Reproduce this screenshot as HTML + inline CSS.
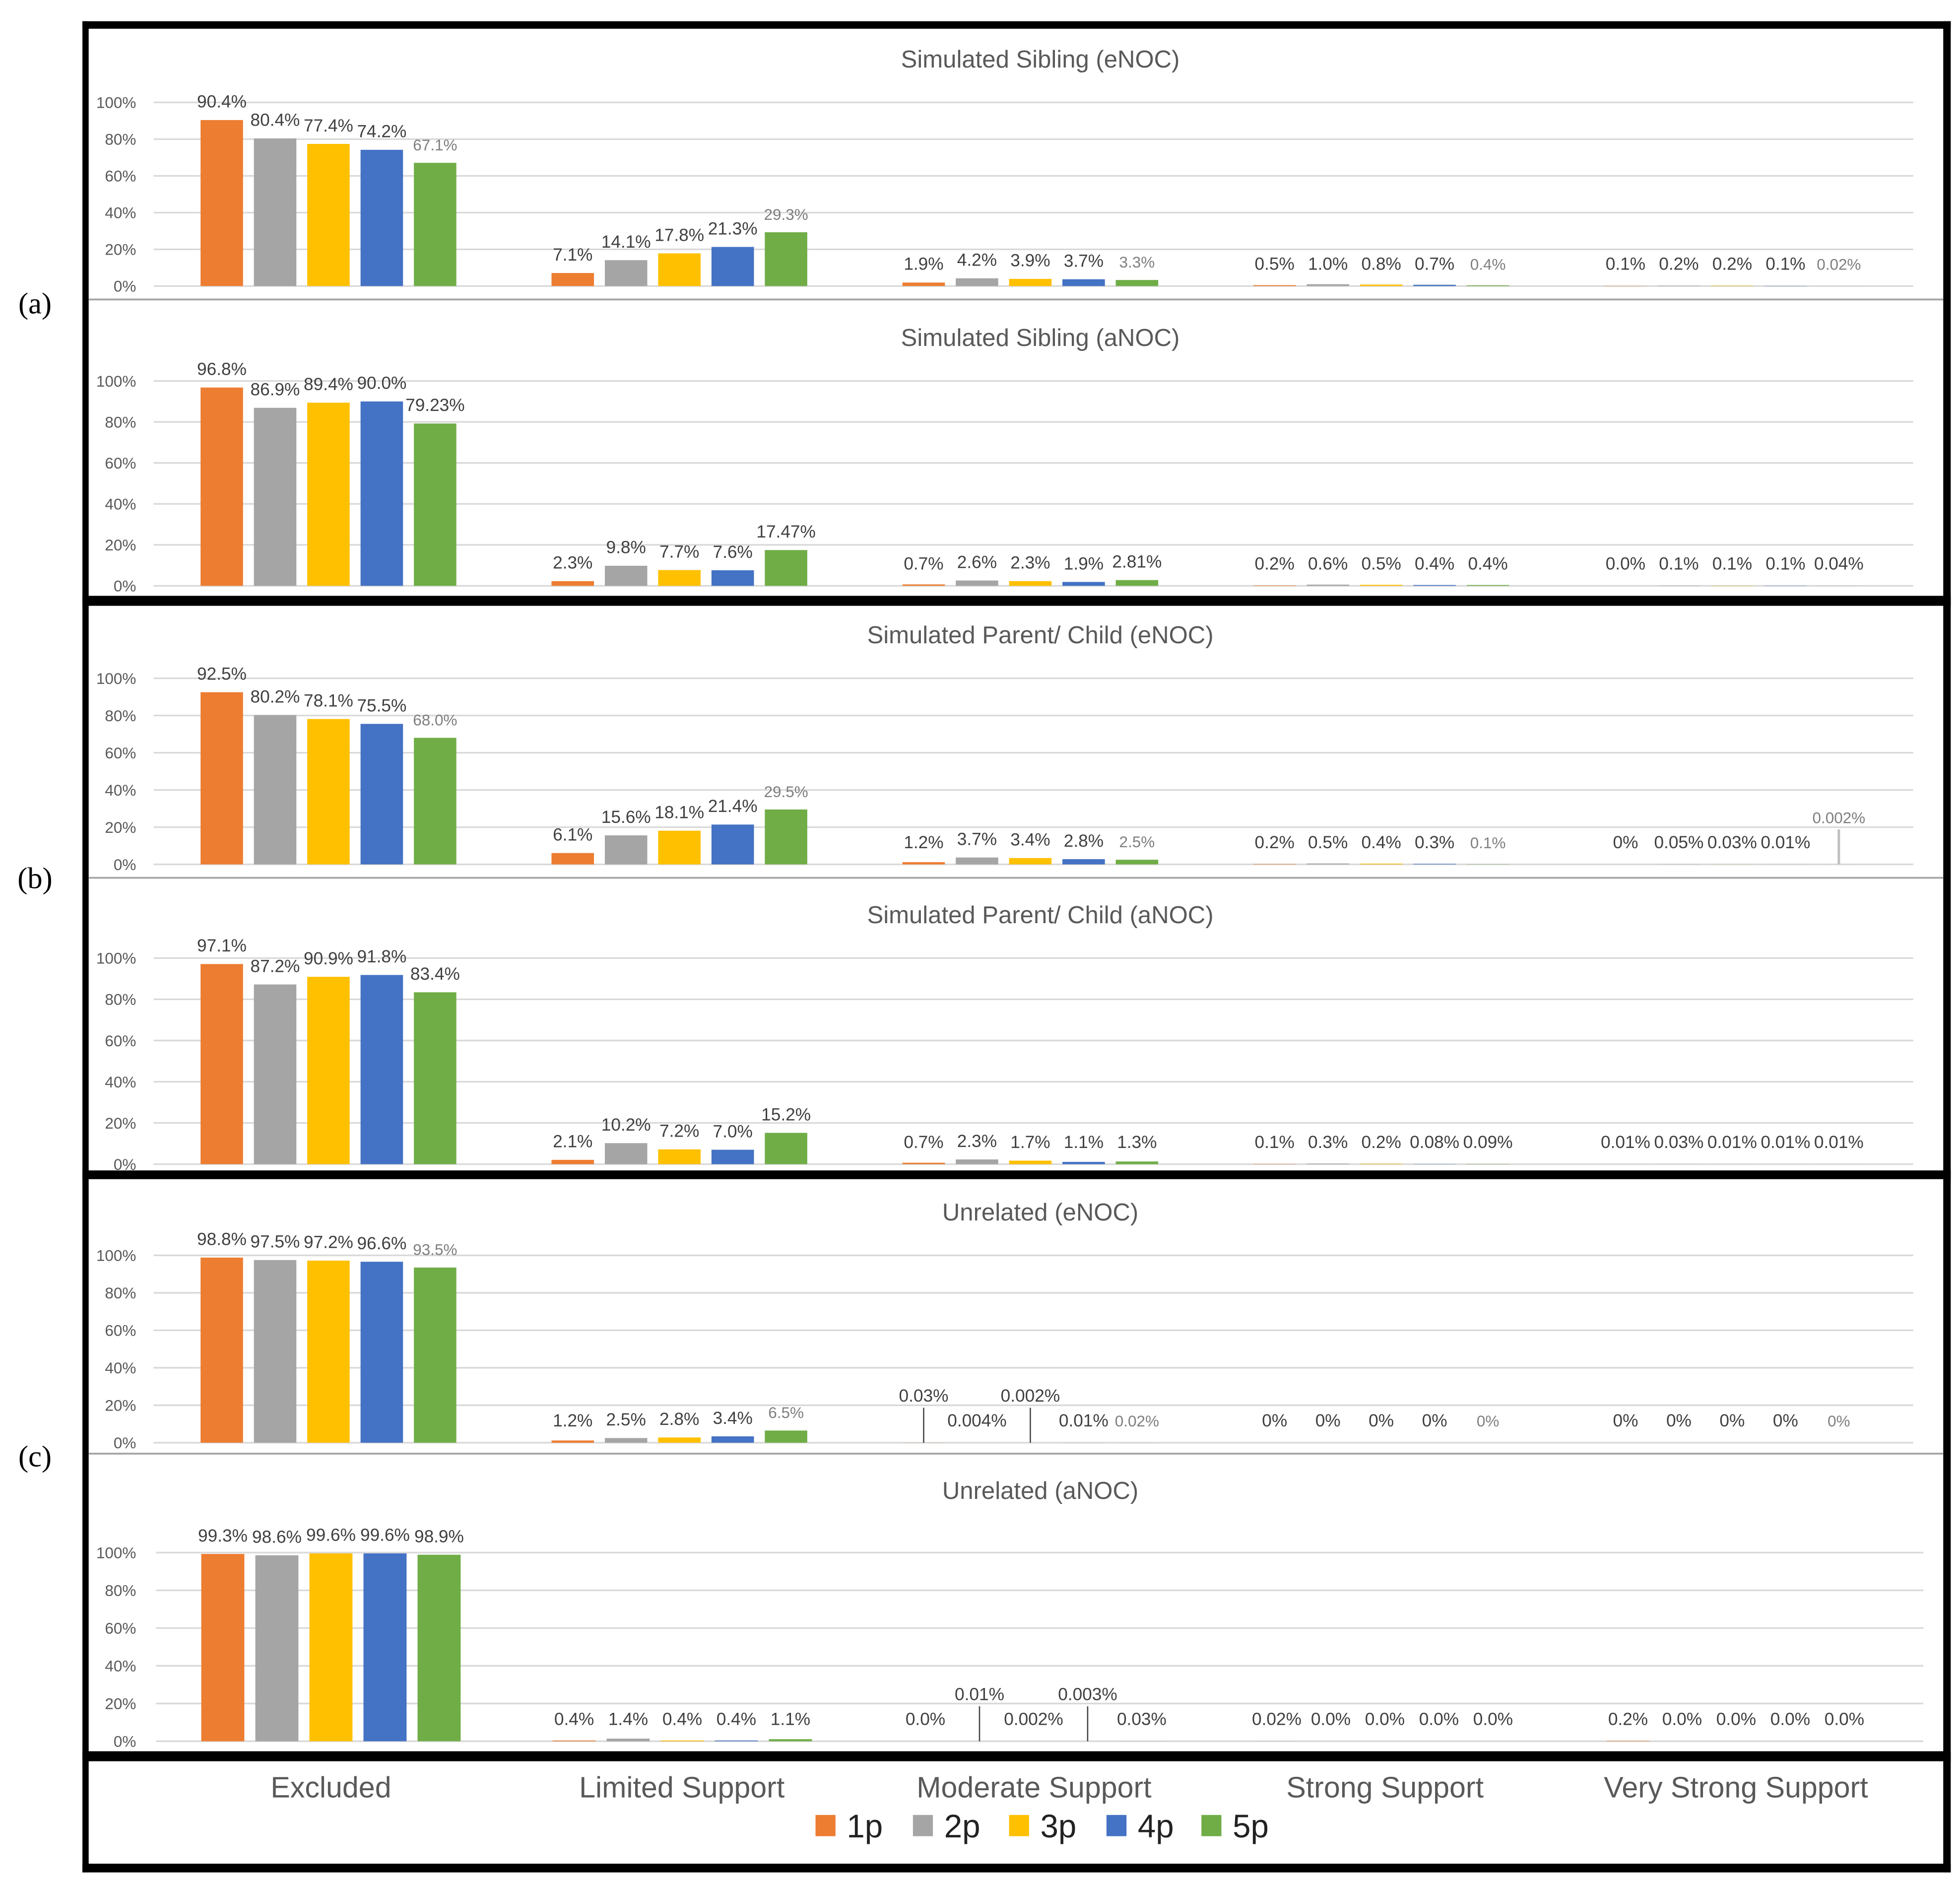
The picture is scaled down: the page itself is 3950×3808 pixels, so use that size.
<!DOCTYPE html>
<html><head><meta charset="utf-8">
<style>
html,body{margin:0;padding:0;background:#fff;}
svg{display:block;}
text{font-family:"Liberation Sans","DejaVu Sans",sans-serif;}
</style></head>
<body>
<svg id="chart" width="3950" height="3808" viewBox="0 0 1560 1504" preserveAspectRatio="none" xmlns="http://www.w3.org/2000/svg">
<rect x="0" y="0" width="1560" height="1504" fill="#fff"/>
<g transform="scale(0.994,0.994)">
<g id="frame"></g>
<g id="panels"></g>
<g id="legend"></g>
</g>
</svg>
<script>
const categories = ["Excluded","Limited Support","Moderate Support","Strong Support","Very Strong Support"];
const seriesNames = ["1p","2p","3p","4p","5p"];
const colors = ["#ED7D31","#A5A5A5","#FFC000","#4472C4","#70AD47"];
const yTicks = [0,20,40,60,80,100];
const yTickLabels = ["0%","20%","40%","60%","80%","100%"];
const panelTitles = ["Simulated Sibling (eNOC)","Simulated Sibling (aNOC)","Simulated Parent/ Child (eNOC)","Simulated Parent/ Child (aNOC)","Unrelated (eNOC)","Unrelated (aNOC)"];

const p1Values = [[90.4,80.4,77.4,74.2,67.1],[7.1,14.1,17.8,21.3,29.3],[1.9,4.2,3.9,3.7,3.3],[0.5,1.0,0.8,0.7,0.4],[0.1,0.2,0.2,0.1,0.02]];
const p1Labels = [["90.4%","80.4%","77.4%","74.2%","67.1%"],["7.1%","14.1%","17.8%","21.3%","29.3%"],["1.9%","4.2%","3.9%","3.7%","3.3%"],["0.5%","1.0%","0.8%","0.7%","0.4%"],["0.1%","0.2%","0.2%","0.1%","0.02%"]];
const p2Values = [[96.8,86.9,89.4,90.0,79.23],[2.3,9.8,7.7,7.6,17.47],[0.7,2.6,2.3,1.9,2.81],[0.2,0.6,0.5,0.4,0.4],[0.0,0.1,0.1,0.1,0.04]];
const p2Labels = [["96.8%","86.9%","89.4%","90.0%","79.23%"],["2.3%","9.8%","7.7%","7.6%","17.47%"],["0.7%","2.6%","2.3%","1.9%","2.81%"],["0.2%","0.6%","0.5%","0.4%","0.4%"],["0.0%","0.1%","0.1%","0.1%","0.04%"]];
const p3Values = [[92.5,80.2,78.1,75.5,68.0],[6.1,15.6,18.1,21.4,29.5],[1.2,3.7,3.4,2.8,2.5],[0.2,0.5,0.4,0.3,0.1],[0,0.05,0.03,0.01,0.002]];
const p3Labels = [["92.5%","80.2%","78.1%","75.5%","68.0%"],["6.1%","15.6%","18.1%","21.4%","29.5%"],["1.2%","3.7%","3.4%","2.8%","2.5%"],["0.2%","0.5%","0.4%","0.3%","0.1%"],["0%","0.05%","0.03%","0.01%","0.002%"]];
const p4Values = [[97.1,87.2,90.9,91.8,83.4],[2.1,10.2,7.2,7.0,15.2],[0.7,2.3,1.7,1.1,1.3],[0.1,0.3,0.2,0.08,0.09],[0.01,0.03,0.01,0.01,0.01]];
const p4Labels = [["97.1%","87.2%","90.9%","91.8%","83.4%"],["2.1%","10.2%","7.2%","7.0%","15.2%"],["0.7%","2.3%","1.7%","1.1%","1.3%"],["0.1%","0.3%","0.2%","0.08%","0.09%"],["0.01%","0.03%","0.01%","0.01%","0.01%"]];
const p5Values = [[98.8,97.5,97.2,96.6,93.5],[1.2,2.5,2.8,3.4,6.5],[0.03,0.004,0.002,0.01,0.02],[0,0,0,0,0],[0,0,0,0,0]];
const p5Labels = [["98.8%","97.5%","97.2%","96.6%","93.5%"],["1.2%","2.5%","2.8%","3.4%","6.5%"],["0.03%","0.004%","0.002%","0.01%","0.02%"],["0%","0%","0%","0%","0%"],["0%","0%","0%","0%","0%"]];
const p6Values = [[99.3,98.6,99.6,99.6,98.9],[0.4,1.4,0.4,0.4,1.1],[0.0,0.01,0.002,0.003,0.03],[0.02,0,0,0,0],[0.2,0,0,0,0]];
const p6Labels = [["99.3%","98.6%","99.6%","99.6%","98.9%"],["0.4%","1.4%","0.4%","0.4%","1.1%"],["0.0%","0.01%","0.002%","0.003%","0.03%"],["0.02%","0.0%","0.0%","0.0%","0.0%"],["0.2%","0.0%","0.0%","0.0%","0.0%"]];
const p3Callouts = [[4,4]];
const p5Callouts = [[2,0],[2,2]];
const p6Callouts = [[2,1],[2,3]];

const allValues = [p1Values,p2Values,p3Values,p4Values,p5Values,p6Values];
const allLabels = [p1Labels,p2Labels,p3Labels,p4Labels,p5Labels,p6Labels];
const allCallouts = [[],[],p3Callouts,[],p5Callouts,p6Callouts];

const NS = "http://www.w3.org/2000/svg";
function mk(tag, attrs, parent){
  const e = document.createElementNS(NS, tag);
  for (const k in attrs) e.setAttribute(k, attrs[k]);
  parent.appendChild(e);
  return e;
}

const layout = [
  {title:47, top:82, base:229, c0:263, step:281, bs:42.7, bw:34, gx1:123, gx2:1532, light:true},
  {title:270, top:305, base:469, c0:263, step:281, bs:42.7, bw:34, gx1:123, gx2:1532, light:false},
  {title:508, top:543, base:692, c0:263, step:281, bs:42.7, bw:34, gx1:123, gx2:1532, light:true},
  {title:732, top:767, base:932, c0:263, step:281, bs:42.7, bw:34, gx1:123, gx2:1532, light:false},
  {title:970, top:1005, base:1155, c0:263, step:281, bs:42.7, bw:34, gx1:123, gx2:1532, light:true},
  {title:1193, top:1243, base:1394, c0:265, step:281.3, bs:43.3, bw:34.5, gx1:125, gx2:1540, light:false}
];

const panelsG = document.getElementById("panels");
layout.forEach((L, p) => {
  const g = mk("g", {}, panelsG);
  
  
  const yScale = v => L.base - (v/100)*(L.base - L.top);
  const xCenter = (c, s) => L.c0 + c*L.step + (s-2)*L.bs;
  const t = mk("text", {x:833, y:L.title+7, "text-anchor":"middle", "font-size":19.5, fill:"#595959"}, g);
  t.textContent = panelTitles[p];
  
  
  yTicks.forEach((v, i) => {
    const y = yScale(v);
    const gl = mk("line", {x1:L.gx1, x2:L.gx2, y1:y, y2:y, stroke:"#d9d9d9", "stroke-width":1.3}, g);
    
    
    const tl = mk("text", {x:109, y:y+4.5, "text-anchor":"end", "font-size":12.5, fill:"#595959"}, g);
    tl.textContent = yTickLabels[i];
    
    
  });
  const vals = allValues[p], labs = allLabels[p];
  const callouts = allCallouts[p];
  for (let c = 0; c < categories.length; c++) {
    for (let s = 0; s < seriesNames.length; s++) {
      const v = vals[c][s];
      const yt = yScale(v);
      const xc = xCenter(c, s);
      const r = mk("rect", {x:xc - L.bw/2, y:yt, width:L.bw, height:Math.max(0, L.base - yt), fill:colors[s]}, g);
      
      
      const isCallout = callouts.some(k => k[0] === c && k[1] === s);
      const lightLab = L.light && s === 4;
      let ly = Math.min(yt - 10, L.base - 13);
      if (isCallout) {
        ly = L.base - 33;
        const ln = mk("line", {x1:xc, x2:xc, y1:L.base - 28, y2:L.base, stroke: p===2 ? "#bfbfbf" : "#404040", "stroke-width": p===2 ? 2 : 1}, g);
        
        
      }
      const lt = mk("text", {x:xc, y:ly, "text-anchor":"middle", "font-size": lightLab ? 12.5 : 14, fill: lightLab ? "#7f7f7f" : "#404040"}, g);
      lt.textContent = labs[c][s];
      
      
    }
  }
});

const fr = document.getElementById("frame");
function blk(x,y,w,h,name,col){
  const r = mk("rect", {x:x, y:y, width:w, height:h, fill:col||"#000"}, fr);
  
  
}
blk(66,17,1496,6,"frame-top");
blk(66,17,5,1482,"frame-left");
blk(1556,17,6,1482,"frame-right");
blk(66,1492,1496,7,"frame-bottom");
blk(66,477,1496,8,"section-divider-ab");
blk(66,937,1496,7,"section-divider-bc");
blk(66,1402,1496,8,"section-divider-legend");
blk(71,239,1485,1.5,"panel-separator-a","#a6a6a6");
blk(71,702,1485,1.5,"panel-separator-b","#a6a6a6");
blk(71,1163,1485,1.5,"panel-separator-c","#a6a6a6");
[["(a)",243],["(b)",703],["(c)",1166]].forEach(d => {
  const t = mk("text", {x:28, y:d[1]+8, "text-anchor":"middle", "font-size":24, fill:"#000", style:"font-family:'Liberation Serif',serif"}, fr);
  t.textContent = d[0];
  
  
});

const lg = document.getElementById("legend");
const catX = [265, 546, 828, 1109, 1390];
categories.forEach((c, i) => {
  const t = mk("text", {x:catX[i], y:1439, "text-anchor":"middle", "font-size":23.5, fill:"#595959"}, lg);
  t.textContent = c;
  
  
});
const legX = [653, 731, 808, 886, 962];
seriesNames.forEach((s, i) => {
  const r = mk("rect", {x:legX[i], y:1453, width:16, height:17, fill:colors[i]}, lg);
  
  
  const t = mk("text", {x:legX[i]+25, y:1471, "font-size":26, fill:"#222"}, lg);
  t.textContent = s;
  
  
});
</script>
</body></html>
